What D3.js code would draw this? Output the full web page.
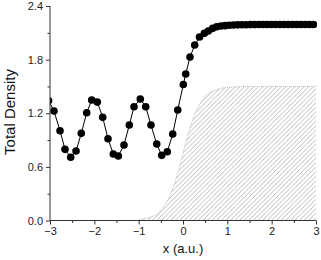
<!DOCTYPE html>
<html><head><meta charset="utf-8">
<script src="https://cdn.jsdelivr.net/npm/d3@7"></script>
<style>html,body{margin:0;padding:0;background:#fff;}svg{display:block;}</style>
</head><body>
<script>
// Total density (dots + line)
const densX = [-3.03,-2.91,-2.774,-2.662,-2.533,-2.413,-2.294,-2.172,-2.059,-1.933,-1.811,-1.692,-1.572,-1.459,-1.331,-1.211,-1.105,-0.963,-0.841,-0.722,-0.593,-0.48,-0.354,-0.232,-0.119,0.007,0.061,0.158,0.264,0.372,0.481,0.571,0.67,0.76,0.855,0.95,1.045,1.14,1.235,1.33,1.425,1.52,1.615,1.71,1.805,1.9,1.995,2.09,2.185,2.28,2.375,2.47,2.565,2.66,2.755,2.85,2.945];
const densY = [1.34,1.225,1.004,0.796,0.707,0.777,0.975,1.206,1.348,1.325,1.154,0.915,0.744,0.721,0.845,1.068,1.273,1.359,1.273,1.068,0.856,0.729,0.77,0.968,1.236,1.521,1.639,1.829,1.963,2.053,2.094,2.12,2.15,2.168,2.176,2.18,2.184,2.187,2.189,2.19,2.191,2.192,2.192,2.193,2.193,2.193,2.193,2.193,2.193,2.193,2.193,2.193,2.193,2.193,2.193,2.193,2.193];
// Hatched area boundary
const hatchX = [-1.0,-0.8,-0.6,-0.4,-0.3,-0.2,-0.1,0.0,0.1,0.2,0.3,0.4,0.5,0.6,0.8,1.0,1.5,2.0,2.5,3.0];
const hatchY = [0.01,0.03,0.07,0.18,0.27,0.40,0.56,0.75,0.94,1.10,1.23,1.32,1.39,1.43,1.47,1.49,1.5,1.5,1.5,1.5];
const xTicks = [-3,-2,-1,0,1,2,3];
const yTicks = [0.0,0.6,1.2,1.8,2.4];
const xMinor = [-2.5,-1.5,-0.5,0.5,1.5,2.5];
const yMinor = [0.3,0.9,1.5,2.1];

const W = 321, H = 260;
const svg = d3.select("body").append("svg").attr("width", W).attr("height", H);
const x = d3.scaleLinear().domain([-3,3]).range([50,316]);
const y = d3.scaleLinear().domain([0,2.4]).range([220.5,6]);

const defs = svg.append("defs");
defs.append("clipPath").attr("id","clip").append("rect")
  .attr("x",50).attr("y",0).attr("width",267).attr("height",221);
const S = 4.6;
const pat = defs.append("pattern").attr("id","hatch").attr("patternUnits","userSpaceOnUse")
  .attr("width",S).attr("height",S);
pat.append("path").attr("d",`M-1,1 L1,-1 M0,${S} L${S},0 M${S-1},${S+1} L${S+1},${S-1}`)
  .attr("stroke","#8c8c8c").attr("stroke-width",0.6);

const hatchData = hatchX.map((d,i)=>[d,hatchY[i]]);
const g = svg.append("g").attr("clip-path","url(#clip)");
g.append("path").datum(hatchData)
  .attr("d", d3.area().x(d=>x(d[0])).y0(y(0)).y1(d=>y(d[1])).curve(d3.curveMonotoneX))
  .attr("fill","url(#hatch)");
g.append("path").datum(hatchData)
  .attr("d", d3.line().x(d=>x(d[0])).y(d=>y(d[1])).curve(d3.curveMonotoneX))
  .attr("fill","none").attr("stroke","#aaa").attr("stroke-width",0.8).attr("stroke-dasharray","1,1");

const dens = densX.map((d,i)=>[d,densY[i]]);
g.append("path").datum(dens)
  .attr("d", d3.line().x(d=>x(d[0])).y(d=>y(d[1])))
  .attr("fill","none").attr("stroke","#000").attr("stroke-width",1);
g.selectAll("circle").data(dens).enter().append("circle")
  .attr("cx",d=>x(d[0])).attr("cy",d=>y(d[1])).attr("r",3.8).attr("fill","#000");

// axes
const axCol = "#333";
const xAxis = svg.append("g").attr("transform",`translate(0,${y(0)})`)
  .call(d3.axisBottom(x).tickValues(xTicks).tickSize(4).tickPadding(3).tickFormat(d3.format("d")));
svg.append("g").attr("transform",`translate(0,${y(0)})`)
  .call(d3.axisBottom(x).tickValues(xMinor).tickSize(2.5).tickFormat(""))
  .call(s=>s.select(".domain").remove());
const yAxis = svg.append("g").attr("transform",`translate(${x(-3)},0)`)
  .call(d3.axisLeft(y).tickValues(yTicks).tickSize(4).tickPadding(3).tickFormat(d3.format(".1f")));
svg.append("g").attr("transform",`translate(${x(-3)},0)`)
  .call(d3.axisLeft(y).tickValues(yMinor).tickSize(2.5).tickFormat(""))
  .call(s=>s.select(".domain").remove());
svg.selectAll(".domain").attr("stroke",axCol);
svg.selectAll(".tick line").attr("stroke",axCol);
svg.selectAll(".tick text").attr("fill","#222").style("font-family","'Liberation Sans', Arial, sans-serif").style("font-size","11px");
xAxis.select(".domain").attr("d",`M${x(-3)},0H${x(3)}`);
yAxis.select(".domain").attr("d",`M0,${y(0)}V${y(2.4)}`);

svg.append("text").attr("x",183).attr("y",253).attr("text-anchor","middle")
  .style("font-family","'Liberation Sans', Arial, sans-serif").style("font-size","13px").attr("fill","#111")
  .text("x (a.u.)");
svg.append("text").attr("transform","translate(15,112) rotate(-90)").attr("text-anchor","middle")
  .style("font-family","'Liberation Sans', Arial, sans-serif").style("font-size","15px").attr("fill","#111")
  .text("Total Density");
</script>
</body></html>
